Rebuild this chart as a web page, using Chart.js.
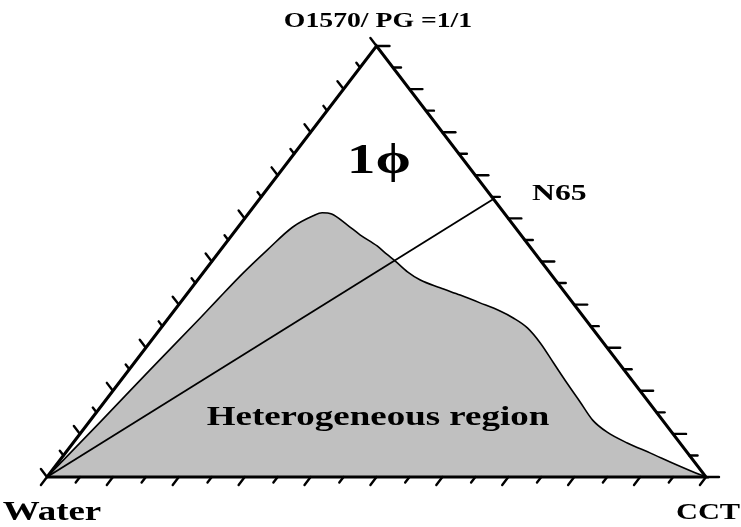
<!DOCTYPE html>
<html>
<head>
<meta charset="utf-8">
<script src="https://cdn.jsdelivr.net/npm/chart.js@4/dist/chart.umd.min.js"></script>
<style>
  html, body { margin: 0; padding: 0; background: #ffffff; }
  canvas { display: block; }
</style>
</head>
<body>
<canvas id="c" width="741" height="527"></canvas>
<script>
// Ternary phase diagram: Water / CCT / O1570:PG (1:1), percentages by weight.
const vertexLabels = ['Water', 'CCT', 'O1570/ PG =1/1'];

// Boundary of the two-phase (heterogeneous) region, Water corner to CCT corner
const boundaryCCT = [0, 1.7, 3.2, 4.8, 5.3, 6.1, 7.1, 8.3, 10.1, 11.1,
  12.7, 16.3, 19.4, 23.3, 25.7, 27.8, 30.9, 33.8, 37.7, 41.6,
  45.5, 49.5, 52.3, 55.6, 59.3, 63.6, 68.0, 72.2, 76.2, 79.8,
  84.1, 88.7, 94.2, 98.9, 100];
const boundaryOPG = [0, 12.8, 24.8, 36.9, 41.1, 47.3, 52.7, 58.0, 60.6, 61.3,
  61.0, 58.5, 56.2, 53.6, 51.7, 50.1, 47.6, 45.7, 43.9, 42.2,
  40.4, 38.5, 36.9, 34.6, 31.1, 26.5, 21.8, 17.4, 13.2, 10.4,
  7.9, 5.6, 2.8, 0.5, 0];

// Dilution line from the Water corner to the N65 composition (no water)
const dilutionCCT = [0, 35.5];
const dilutionOPG = [0, 64.5];
const dilutionLabel = 'N65';

// Axis tick values along every side (percent)
const tickValues = [0, 5, 10, 15, 20, 25, 30, 35, 40, 45, 50,
  55, 60, 65, 70, 75, 80, 85, 90, 95, 100];

const regionLabels = ['1\u03D5', 'Heterogeneous region'];

// ternary (CCT %, O1570/PG %) -> cartesian data coordinates
function tern(c, o) { return { x: c / 100 + o / 200, y: o / 100 }; }

const boundaryPts = boundaryCCT.map((c, i) => tern(c, boundaryOPG[i]));
const dilutionPts = dilutionCCT.map((c, i) => tern(c, dilutionOPG[i]));
const framePts = [tern(0, 0), tern(100, 0), tern(0, 100), tern(0, 0)];

const SERIF = '"Liberation Serif", "Times New Roman", "DejaVu Serif", serif';
const STRETCH = 1.32;

function drawLabel(ctx, text, x, y, size, align) {
  ctx.save();
  ctx.font = 'bold ' + size + 'px ' + SERIF;
  ctx.fillStyle = '#000';
  ctx.textAlign = align;
  ctx.textBaseline = 'alphabetic';
  ctx.translate(x, y);
  ctx.scale(STRETCH, 1);
  ctx.fillText(text, 0, 0);
  ctx.restore();
}

const ternaryDecor = {
  id: 'ternaryDecor',
  afterDatasetsDraw(chart) {
    const ctx = chart.ctx;
    const xs = chart.scales.x, ys = chart.scales.y;
    const P = (c, o) => { const t = tern(c, o); return [xs.getPixelForValue(t.x), ys.getPixelForValue(t.y)]; };
    const W = P(0, 0), C = P(100, 0), T = P(0, 100);
    const unit = (a, b) => { const dx = b[0] - a[0], dy = b[1] - a[1]; const l = Math.hypot(dx, dy); return [dx / l, dy / l]; };
    const dBottom = unit(T, W);   // ticks under the Water–CCT side
    const dRight = [1, 0];        // ticks right of the CCT–apex side
    const dLeft = unit(C, T);     // ticks left of the Water–apex side

    ctx.save();
    ctx.strokeStyle = '#000';
    ctx.lineCap = 'round';
    ctx.lineWidth = 2.4;
    tickValues.forEach(v => {
      const major = v % 10 === 0;
      // bottom side: CCT content
      let p = P(v, 0), L = major ? 10 : 7;
      ctx.beginPath(); ctx.moveTo(p[0], p[1]); ctx.lineTo(p[0] + dBottom[0] * L, p[1] + dBottom[1] * L); ctx.stroke();
      // right side: O1570/PG content
      p = P(100 - v, v); L = major ? 13 : 8;
      ctx.beginPath(); ctx.moveTo(p[0], p[1]); ctx.lineTo(p[0] + dRight[0] * L, p[1] + dRight[1] * L); ctx.stroke();
      // left side
      p = P(0, v); L = major ? 10 : 6;
      ctx.beginPath(); ctx.moveTo(p[0], p[1]); ctx.lineTo(p[0] + dLeft[0] * L, p[1] + dLeft[1] * L); ctx.stroke();
    });
    ctx.restore();

    drawLabel(ctx, vertexLabels[2], 378, 27, 21, 'center');
    drawLabel(ctx, vertexLabels[0], 52, 520, 28, 'center');
    drawLabel(ctx, vertexLabels[1], 708, 519, 23, 'center');
    drawLabel(ctx, dilutionLabel, 532, 200, 24, 'left');
    drawLabel(ctx, regionLabels[0], 347, 173, 43, 'left');
    drawLabel(ctx, regionLabels[1], 378, 425, 28, 'center');
  }
};

new Chart(document.getElementById('c'), {
  type: 'scatter',
  data: {
    datasets: [
      {
        label: 'Heterogeneous region',
        data: boundaryPts,
        showLine: true,
        fill: 'origin',
        backgroundColor: '#c0c0c0',
        borderColor: '#000',
        borderWidth: 1.6,
        cubicInterpolationMode: 'monotone',
        pointRadius: 0,
        clip: false,
        order: 3
      },
      {
        label: 'N65 dilution line',
        data: dilutionPts,
        showLine: true,
        fill: false,
        borderColor: '#000',
        borderWidth: 1.8,
        pointRadius: 0,
        clip: false,
        order: 2
      },
      {
        label: 'frame',
        data: framePts,
        showLine: true,
        fill: false,
        borderColor: '#000',
        borderWidth: 3,
        borderJoinStyle: 'miter',
        pointRadius: 0,
        clip: false,
        order: 1
      }
    ]
  },
  options: {
    responsive: false,
    animation: false,
    devicePixelRatio: 1,
    layout: { padding: { left: 47, right: 35, top: 46, bottom: 50 } },
    scales: {
      x: { type: 'linear', min: 0, max: 1, display: false },
      y: { type: 'linear', min: 0, max: 1, display: false }
    },
    plugins: {
      legend: { display: false },
      tooltip: { enabled: false },
      title: { display: false }
    }
  },
  plugins: [ternaryDecor]
});
</script>
</body>
</html>
